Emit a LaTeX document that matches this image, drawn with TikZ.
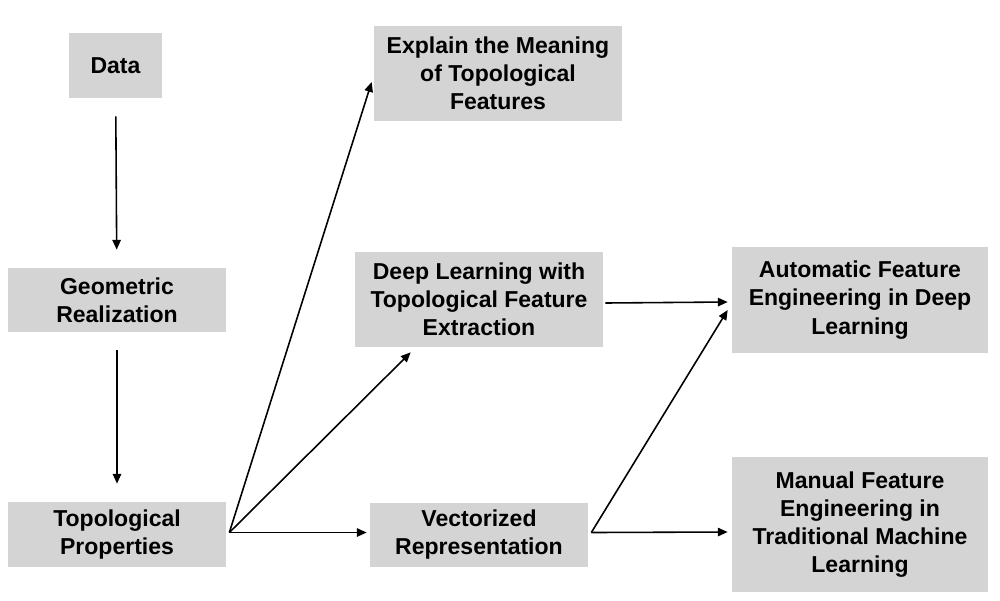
\documentclass[tikz,border=0pt]{standalone}
\usepackage{fontspec}
\setmainfont{Liberation Sans}
\usetikzlibrary{positioning}
\usetikzlibrary{calc}
\usetikzlibrary{arrows.meta}
\definecolor{boxgray}{HTML}{D4D4D4}

\begin{document}
\begin{tikzpicture}[x=0.02cm, y=-0.02cm,
        n/.style={fill=boxgray, inner sep=0pt, align=center,
            font=\fontsize{13.1}{16}\selectfont\bfseries},
        arr/.style={line width=0.9pt, -{Triangle[length=5.6pt, width=4.8pt]}}]
        \useasboundingbox (0, 0) rectangle (1000, 600);

        \node[n, minimum width=1.86cm, minimum height=1.3cm] (data) at (115.5, 65.5) {Data};
        \node[n, minimum width=4.36cm, minimum height=1.28cm] (geo) at (117, 300) {Geometric\\Realization};
        \node[n, minimum width=4.36cm, minimum height=1.3cm] (topo) at (117, 534.5) {Topological\\Properties};
        \node[n, minimum width=4.96cm, minimum height=1.9cm] (explain) at (498, 73.5) {Explain the Meaning\\of Topological\\Features};
        \node[n, minimum width=4.96cm, minimum height=1.9cm] (deep) at (479, 299.5) {Deep Learning with\\Topological Feature\\Extraction};
        \node[n, minimum width=4.36cm, minimum height=1.28cm] (vect) at (479, 534.5) {Vectorized\\Representation};
        \node[n, minimum width=5.12cm, minimum height=2.12cm] (auto) at (860, 300) {Automatic Feature\\Engineering in Deep\\Learning};
        \node[n, minimum width=5.12cm, minimum height=2.7cm] (manual) at (860, 524.5) {Manual Feature\\Engineering in\\Traditional Machine\\Learning};

        \coordinate (topoout) at ($(topo.east)+(3, -2)$);
        \coordinate (vectout) at ($(vect.east)+(3, -2)$);

        \draw[arr, shorten <=0.36cm, shorten >=0.36cm] (data) -- (geo);
        \draw[arr, shorten <=0.36cm, shorten >=0.36cm] (geo) -- (topo);
        \draw[arr] (topoout) -- ($(explain.west)+(-2, 8.5)$);
        \draw[arr] (topoout) -- ($(deep.south west)+(56, 5)$);
        \draw[arr] (topoout) -- ($(vect.west)+(-3, -2)$);
        \draw[arr] ($(deep.east)+(2, 3.5)$) -- ($(auto.west)+(-4, 2)$);
        \draw[arr] (vectout) -- ($(auto.west)+(-4, 10)$);
        \draw[arr] (vectout) -- ($(manual.west)+(-4, 7.5)$);
    \end{tikzpicture}
\end{document}
